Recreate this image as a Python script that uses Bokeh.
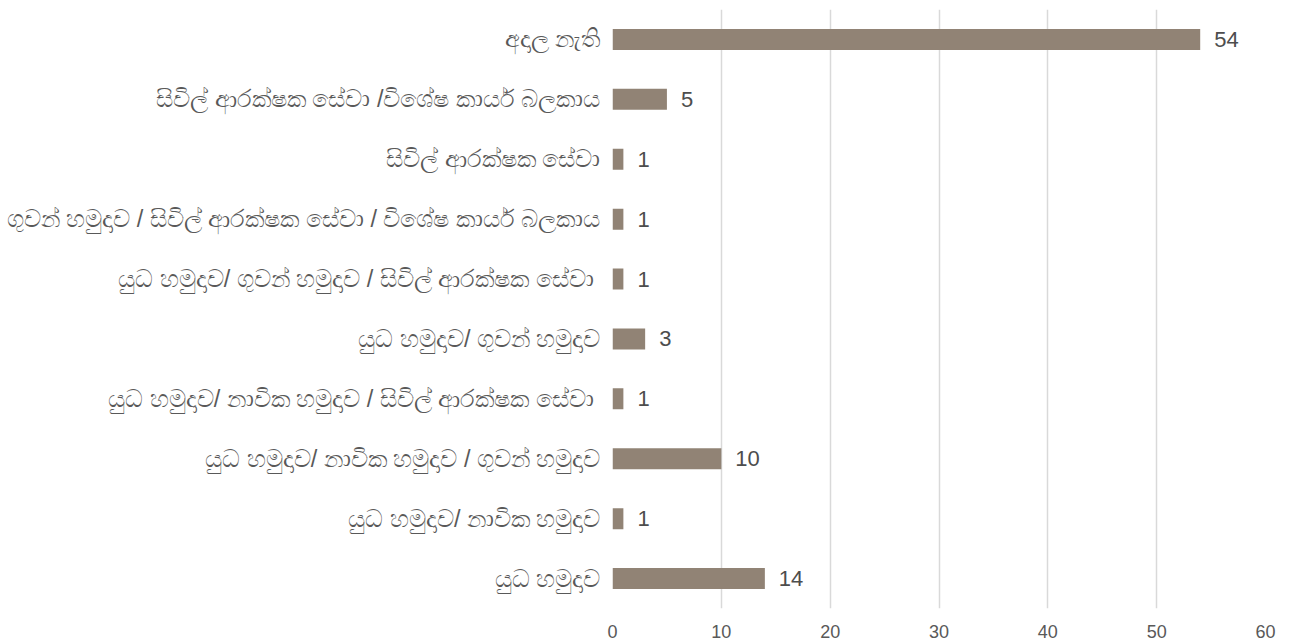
from bokeh.plotting import figure
from bokeh.models import FactorRange, FixedTicker, ColumnDataSource, Range1d
from bokeh.core.properties import value
from bokeh.embed import file_html
from bokeh.resources import INLINE

categories = [
    "අදාල නැති",
    "සිවිල් ආරක්ෂක සේවා /විශේෂ කාර්ය බලකාය",
    "සිවිල් ආරක්ෂක සේවා",
    "ගුවන් හමුදාව / සිවිල් ආරක්ෂක සේවා / විශේෂ කාර්ය බලකාය",
    "යුධ හමුදාව/ ගුවන් හමුදාව /  සිවිල් ආරක්ෂක සේවා",
    "යුධ හමුදාව/ ගුවන් හමුදාව",
    "යුධ හමුදාව/ නාවික හමුදාව /  සිවිල් ආරක්ෂක සේවා",
    "යුධ හමුදාව/ නාවික හමුදාව / ගුවන් හමුදාව",
    "යුධ හමුදාව/ නාවික හමුදාව",
    "යුධ හමුදාව",
]
counts = [54, 5, 1, 1, 1, 3, 1, 10, 1, 14]
x_ticks = [0, 10, 20, 30, 40, 50, 60]

FONT = "Liberation Sans"

src = ColumnDataSource(dict(cat=categories, val=counts, lab=[str(v) for v in counts]))

p = figure(
    width=1285, height=640,
    y_range=FactorRange(factors=list(reversed(categories)), range_padding=0),
    x_range=Range1d(0, 60),
    output_backend="svg", toolbar_location=None,
    min_border_left=612, min_border_right=20, min_border_top=9, min_border_bottom=31,
)

p.hbar(y="cat", right="val", left=0, height=0.35, source=src,
       fill_color="#918375", line_color=None)

p.text(x="val", y="cat", text="lab", source=src, x_offset=14,
       text_baseline="middle", text_align="left",
       text_font=value(FONT), text_font_size="22px", text_color="#4d4d4d")

p.xaxis.ticker = FixedTicker(ticks=x_ticks)
p.xaxis.axis_line_color = None
p.xaxis.major_tick_line_color = None
p.xaxis.minor_tick_line_color = None
p.xaxis.major_label_text_font = FONT
p.xaxis.major_label_text_font_size = "18px"
p.xaxis.major_label_text_color = "#595959"
p.xaxis.major_label_standoff = 10

p.yaxis.axis_line_color = None
p.yaxis.major_tick_line_color = None
p.yaxis.minor_tick_line_color = None
p.yaxis.major_label_text_font = FONT
p.yaxis.major_label_text_font_size = "23.5px"
p.yaxis.major_label_text_color = "#595959"
p.yaxis.major_label_standoff = 6

p.xgrid.grid_line_color = "#d9d9d9"
p.xgrid.grid_line_width = 1.5
p.ygrid.grid_line_color = None
p.outline_line_color = None

open("out.html", "w").write(file_html(p, INLINE))
